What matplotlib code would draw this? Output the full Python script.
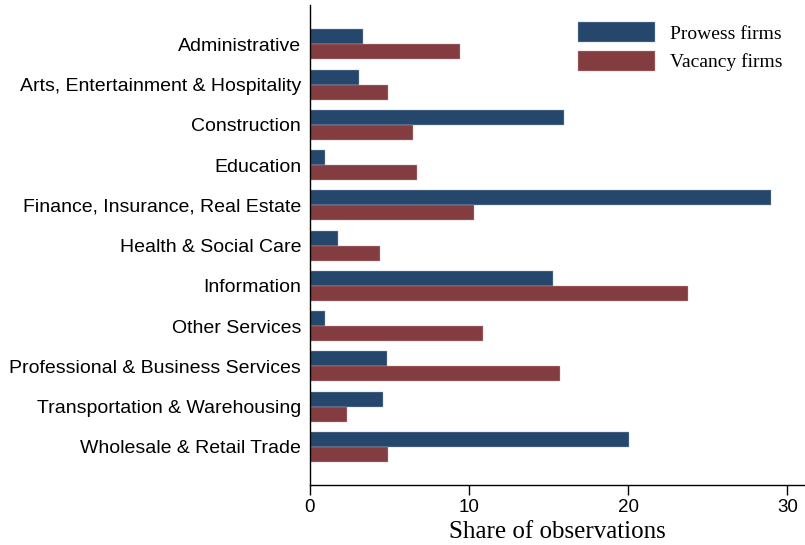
import matplotlib.pyplot as plt
import numpy as np

# 行业类别与两组样本占比
industries = ['Administrative', 'Arts, Entertainment & Hospitality', 'Construction',
              'Education', 'Finance, Insurance, Real Estate', 'Health & Social Care',
              'Information', 'Other Services', 'Professional & Business Services',
              'Transportation & Warehousing', 'Wholesale & Retail Trade']
prowess = [3.36, 3.13, 15.98, 0.97, 28.97, 1.81, 15.3, 0.97, 4.84, 4.59, 20.08]
vacancy = [9.43, 4.91, 6.52, 6.73, 10.3, 4.45, 23.78, 10.91, 15.72, 2.35, 4.91]
xticks = [0, 10, 20, 30]

fig = plt.figure(figsize=(8.05, 5.45), dpi=100)
ax = fig.add_axes([0.3845, 0.110, 0.6155, 0.881])

y = np.arange(len(industries))
h = 0.373
ax.barh(y - h / 2, prowess, height=h, color='#26476C', edgecolor='#9fb0c4',
        linewidth=0.3, label='Prowess firms')
ax.barh(y + h / 2, vacancy, height=h, color='#833C40', edgecolor='#c9a4a6',
        linewidth=0.3, label='Vacancy firms')

ax.set_ylim(10.95, -0.98)
ax.set_xlim(0, 31.1)
ax.set_yticks(y)
ax.set_yticklabels(industries, fontsize=14, family='Liberation Sans')
ax.set_xticks(xticks)
ax.set_xticklabels([str(t) for t in xticks], fontsize=13.5, family='Liberation Sans')
ax.tick_params(axis='y', length=0, pad=6)
ax.tick_params(axis='x', length=7, width=1, pad=3)
ax.set_xlabel('Share of observations', fontsize=18, family='Liberation Serif', labelpad=4)

for s in ['top', 'right']:
    ax.spines[s].set_visible(False)
for s in ['left', 'bottom']:
    ax.spines[s].set_linewidth(1)

leg = ax.legend(loc='upper right', bbox_to_anchor=(0.99, 1.0), frameon=False,
                prop={'family': 'Liberation Serif', 'size': 14},
                handlelength=4.0, handleheight=1.2, handletextpad=0.75, labelspacing=0.4)

plt.savefig('out.png', dpi=100)
